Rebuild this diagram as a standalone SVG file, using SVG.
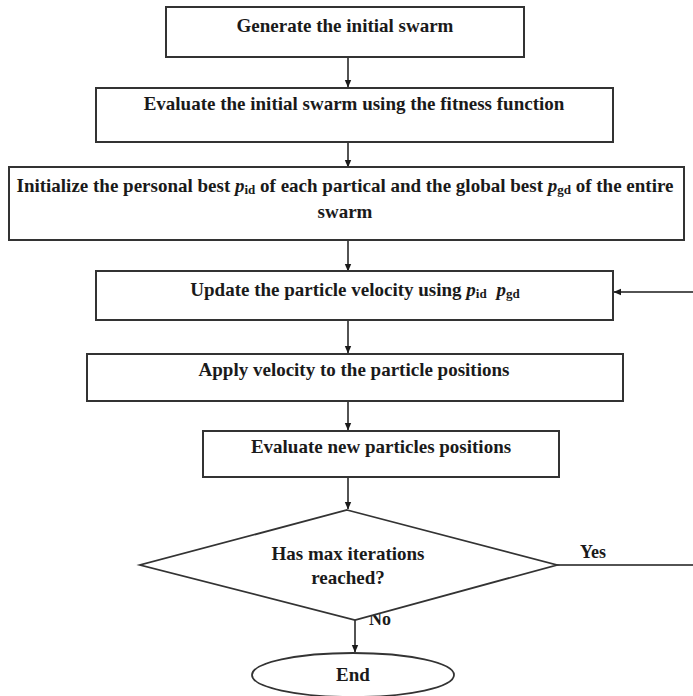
<svg xmlns="http://www.w3.org/2000/svg" width="693" height="696" viewBox="0 0 693 696">
  <defs>
    <marker id="arrow" markerWidth="8" markerHeight="8" refX="7" refY="4" orient="auto" markerUnits="userSpaceOnUse">
      <path d="M0,0.8 L7.5,4 L0,7.2 Z" fill="#1a1a1a"/>
    </marker>
    <style>
      .box { fill: #fff; stroke: #333; stroke-width: 2; }
      .shape { fill: #fff; stroke: #333; stroke-width: 1.8; }
      .conn { fill: none; stroke: #1a1a1a; stroke-width: 1.5; }
      .lbl { font-family: "Liberation Serif", "Times New Roman", serif; font-weight: bold; font-size: 19px; fill: #1a1a1a; text-anchor: middle; }
      .side { font-family: "Liberation Serif", "Times New Roman", serif; font-weight: bold; font-size: 18px; fill: #1a1a1a; }
      .p { font-style: italic; }
      .sub { font-size: 13px; }
    </style>
  </defs>
  <rect width="693" height="696" fill="#fff"/>

  <!-- connectors -->
  <g id="connectors">
    <line class="conn" x1="348" y1="57" x2="348" y2="87" marker-end="url(#arrow)"/>
    <line class="conn" x1="348" y1="142" x2="348" y2="167" marker-end="url(#arrow)"/>
    <line class="conn" x1="348" y1="240" x2="348" y2="271" marker-end="url(#arrow)"/>
    <line class="conn" x1="348" y1="320" x2="348" y2="353" marker-end="url(#arrow)"/>
    <line class="conn" x1="348" y1="401" x2="348" y2="430" marker-end="url(#arrow)"/>
    <line class="conn" x1="348" y1="477" x2="348" y2="509" marker-end="url(#arrow)"/>
    <!-- loop back: Yes branch leaves to the right, returns into the update step -->
    <line class="conn" x1="557" y1="565" x2="693" y2="565"/>
    <line class="conn" x1="693" y1="292" x2="614" y2="292" marker-end="url(#arrow)"/>
    <!-- No branch -->
    <line class="conn" x1="355" y1="620" x2="355" y2="652" marker-end="url(#arrow)"/>
    <text class="side" x="580" y="558">Yes</text>
    <text class="side" x="369" y="625">No</text>
  </g>

  <g id="generate">
    <rect class="box" x="166" y="7" width="358" height="50"/>
    <text class="lbl" x="345" y="32">Generate the initial swarm</text>
  </g>

  <g id="evaluate-initial">
    <rect class="box" x="96" y="88" width="517" height="54"/>
    <text class="lbl" x="354" y="110">Evaluate the initial swarm using the fitness function</text>
  </g>

  <g id="init-best">
    <rect class="box" x="9" y="167" width="675" height="73"/>
    <text class="lbl" x="345" y="192">Initialize the personal best <tspan class="p">p</tspan><tspan class="sub" dy="2">id</tspan><tspan dy="-2"> of each partical and the global best </tspan><tspan class="p">p</tspan><tspan class="sub" dy="2">gd</tspan><tspan dy="-2"> of the entire</tspan></text>
    <text class="lbl" x="345" y="218">swarm</text>
  </g>

  <g id="update-velocity">
    <rect class="box" x="96" y="271" width="517" height="49"/>
    <text class="lbl" x="355" y="296">Update the particle velocity using <tspan class="p">p</tspan><tspan class="sub" dy="2">id</tspan><tspan dy="-2" dx="5"> </tspan><tspan class="p">p</tspan><tspan class="sub" dy="2">gd</tspan></text>
  </g>

  <g id="apply-velocity">
    <rect class="box" x="87" y="354" width="536" height="47"/>
    <text class="lbl" x="354" y="376">Apply velocity to the particle positions</text>
  </g>

  <g id="evaluate-new">
    <rect class="box" x="203" y="431" width="356" height="46"/>
    <text class="lbl" x="381" y="453">Evaluate new particles positions</text>
  </g>

  <g id="max-iterations">
    <polygon class="shape" points="347,510 557,565 355,620 140,565"/>
    <text class="lbl" x="348" y="560">Has max iterations</text>
    <text class="lbl" x="348" y="584">reached?</text>
  </g>

  <g id="end">
    <ellipse class="shape" cx="353" cy="675" rx="101" ry="22"/>
    <text class="lbl" x="353" y="681">End</text>
  </g>
</svg>
